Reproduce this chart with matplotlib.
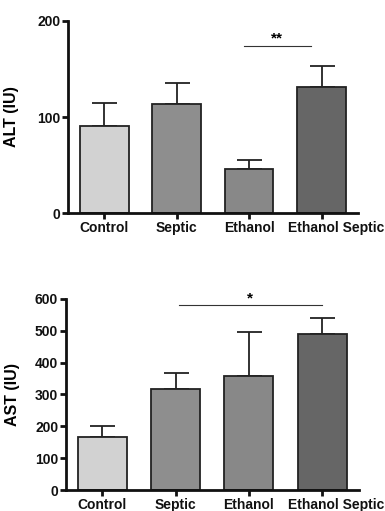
import matplotlib
matplotlib.use("Agg")
import matplotlib.pyplot as plt
import matplotlib.transforms as mtransforms

categories = ["Control", "Septic", "Ethanol", "Ethanol Septic"]
alt_mean = [91, 114, 46, 131]
alt_err = [24, 21, 9, 22]
ast_mean = [168, 318, 359, 489]
ast_err = [34, 50, 137, 50]
colors = ["#d2d2d2", "#8e8e8e", "#888888", "#666666"]

plt.rcParams['font.family'] = ['Liberation Sans', 'DejaVu Sans']

fig = plt.figure(figsize=(3.85, 5.11), dpi=100)
ax1 = fig.add_axes([0.1766, 0.583, 0.753, 0.376])
ax2 = fig.add_axes([0.171, 0.041, 0.761, 0.374])

def draw(ax, means, errs, ylim, yticks, ylabel):
    x = list(range(len(categories)))
    ax.bar(x, means, width=0.67, color=colors, edgecolor="#222222", linewidth=1.3, zorder=2)
    ax.errorbar(x, means, yerr=[[0]*len(errs), errs], fmt="none", ecolor="#222222",
                elinewidth=1.3, capsize=9, capthick=1.3, zorder=1)
    ax.set_xlim(-0.5, 3.5)
    ax.set_ylim(*ylim)
    ax.set_yticks(yticks)
    ax.set_xticks(x)
    ax.set_xticklabels(categories, fontweight="bold", fontsize=10)
    for t in ax.get_yticklabels():
        t.set_fontweight("bold")
        t.set_fontsize(10)
    ax.set_ylabel(ylabel, fontweight="bold", fontsize=11.5)
    for s in ["top", "right"]:
        ax.spines[s].set_visible(False)
    for s in ["left", "bottom"]:
        ax.spines[s].set_linewidth(2)
        ax.spines[s].set_color("#111111")
    ax.tick_params(axis="both", direction="out", length=4, width=2, colors="#111111", pad=1.5)
    # last category label sits a bit to the right of its tick in the reference
    last = ax.get_xticklabels()[-1]
    last.set_transform(last.get_transform() +
                       mtransforms.ScaledTranslation(14 / 100, 0, fig.dpi_scale_trans))

draw(ax1, alt_mean, alt_err, (0, 200), [0, 100, 200], "ALT (IU)")
draw(ax2, ast_mean, ast_err, (0, 600), [0, 100, 200, 300, 400, 500, 600], "AST (IU)")
ax1.yaxis.set_label_coords(-0.17, 0.5)
ax2.yaxis.set_label_coords(-0.155, 0.5)

# significance
ax1.plot([1.93, 2.85], [174, 174], color="#333333", lw=0.8, clip_on=False)
ax1.text(2.39, 174, "**", ha="center", va="bottom", fontsize=11, fontweight="bold")
ax2.plot([1.04, 3.0], [580, 580], color="#333333", lw=0.8, clip_on=False)
ax2.text(2.02, 578, "*", ha="center", va="bottom", fontsize=11, fontweight="bold", clip_on=False)

fig.savefig("out.png", dpi=100)
